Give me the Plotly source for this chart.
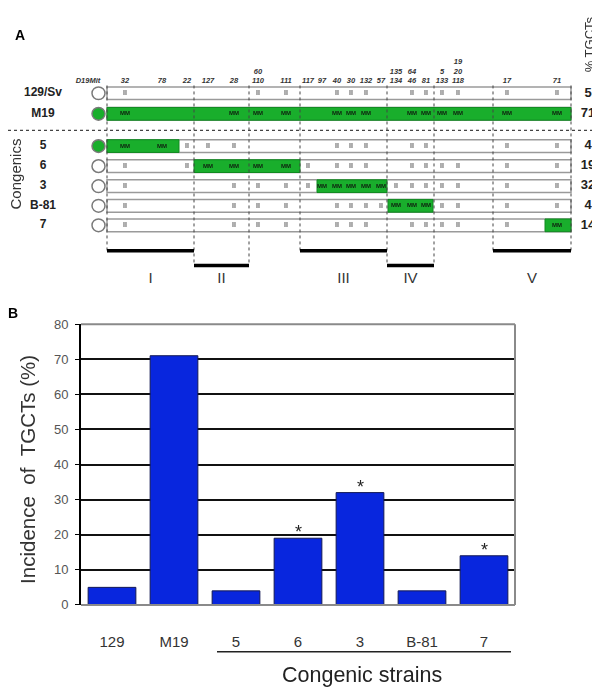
import plotly.graph_objects as go

# ---- panel A: D19Mit genotype map ----
markers = ['32', '78', '22', '127', '28', '110', '111', '117', '97', '40',
           '30', '132', '57', '134', '46', '81', '133', '118', '17', '71']
# extra marker names stacked above the main one (same map position)
marker_extra = {'110': ['60'], '134': ['135'], '46': ['64'], '133': ['5'], '118': ['20', '19']}
# schematic map position of each marker along the chromosome drawing
marker_pos = [125, 162, 187, 208, 234, 258, 286, 308, 322, 337,
              351, 366, 381, 396, 412, 426, 442, 458, 507, 557]

strains = ['129/Sv', 'M19', '5', '6', '3', 'B-81', '7']
# I = II (129 allele), M = MM (MOLF allele), . = not typed
genotypes = [
    'I....II..III..IIIIII',
    'M...MMM..MMM..MMMMMM',
    'MMIII....III..II..II',
    'I.IMMMMI.III..IIIIII',
    'I...IIIIMMMMMIIIIIII',
    'I...III..IIIIMMMIIII',
    'I...III..III..IIIIIM',
]
donor_segments = [None, (107, 571), (107, 179), (194, 300), (317, 387), (388, 433), (545, 571)]
donor_centromere = [False, True, True, False, False, False, False]
tgct_pct = [5, 71, 4, 19, 32, 4, 14]

regions = ['I', 'II', 'III', 'IV', 'V']
region_bounds = [(107, 194), (194, 249), (300, 387), (387, 434), (493, 571)]

# ---- panel B: incidence bar chart ----
bar_labels = ['129', 'M19', '5', '6', '3', 'B-81', '7']
incidence = [5, 71, 4, 19, 32, 4, 14]
significant = [False, False, False, True, True, False, True]

FONT = 'Liberation Sans, Arial, sans-serif'
GREEN = '#19AE2C'
BLUE = '#0826DE'

# the page body has an 8px margin, so the figure is 8px smaller and the
# overlay axis x2/y2 is set up in window pixels
W, H, OFF = 600, 699, 8
row_y = [88, 109, 142, 162.5, 183, 203, 223]
bar_left, bar_right = 107, 571

fig = go.Figure()

fig.add_trace(go.Bar(
    x=bar_labels, y=incidence,
    marker=dict(color=BLUE, line=dict(color='#141a55', width=1)),
    xaxis='x', yaxis='y', hoverinfo='x+y',
))

shapes = []
annotations = []

# row bars + circles + donor segments
for i, s in enumerate(strains):
    y = row_y[i]
    shapes.append(dict(type='rect', xref='x2', yref='y2', x0=bar_left, x1=bar_right,
                       y0=y - 6.5, y1=y + 6.5, fillcolor='white',
                       line=dict(color='#9a9a9a', width=1.5), layer='below'))
    seg = donor_segments[i]
    if seg:
        shapes.append(dict(type='rect', xref='x2', yref='y2', x0=seg[0], x1=seg[1],
                           y0=y - 6.5, y1=y + 6.5, fillcolor=GREEN,
                           line=dict(color='#108a20', width=1), layer='below'))
    shapes.append(dict(type='circle', xref='x2', yref='y2', x0=92, x1=105,
                       y0=y - 6.5, y1=y + 6.5,
                       fillcolor=GREEN if donor_centromere[i] else 'white',
                       line=dict(color='#7a7a7a', width=1.5)))

# dotted boundaries
low_bounds = {b for k, (a, c) in enumerate(region_bounds) if k % 2 == 1 for b in (a, c)}
all_bounds = sorted({b for pair in region_bounds for b in pair})
for b in all_bounds:
    shapes.append(dict(type='line', xref='x2', yref='y2', x0=b, x1=b, y0=80,
                       y1=264 if b in low_bounds else 249,
                       line=dict(color='#444', width=1, dash='dot')))
shapes.append(dict(type='line', xref='x2', yref='y2', x0=OFF, x1=W, y0=126, y1=126,
                   line=dict(color='#444', width=1.2, dash='dot')))

# region bars
for k, (a, c) in enumerate(region_bounds):
    yy = 264 if k % 2 == 1 else 249
    shapes.append(dict(type='line', xref='x2', yref='y2', x0=a, x1=c, y0=yy, y1=yy,
                       line=dict(color='black', width=3.5)))

# genotype calls
ii_x, ii_y, mm_x, mm_y = [], [], [], []
for i, g in enumerate(genotypes):
    for j, code in enumerate(g):
        if code == 'I':
            ii_x.append(marker_pos[j]); ii_y.append(row_y[i])
        elif code == 'M':
            mm_x.append(marker_pos[j]); mm_y.append(row_y[i])
fig.add_trace(go.Scatter(x=ii_x, y=ii_y, mode='text', text=['II'] * len(ii_x),
                         textfont=dict(size=7, color='#666666', family=FONT, weight='bold'),
                         opacity=0.99, xaxis='x2', yaxis='y2', hoverinfo='skip'))
fig.add_trace(go.Scatter(x=mm_x, y=mm_y, mode='text', text=['MM'] * len(mm_x),
                         textfont=dict(size=6, color='#102010', family=FONT, weight='bold'),
                         opacity=0.99, xaxis='x2', yaxis='y2', hoverinfo='skip'))

# marker names
lab_x, lab_y, lab_t = [], [], []
for m, p in zip(markers, marker_pos):
    lab_x.append(p); lab_y.append(76); lab_t.append(m)
    for k, e in enumerate(marker_extra.get(m, [])):
        lab_x.append(p); lab_y.append(66 - 10 * k); lab_t.append(e)
lab_x.append(88); lab_y.append(76); lab_t.append('D19Mit')
fig.add_trace(go.Scatter(x=lab_x, y=lab_y, mode='text', text=lab_t,
                         textfont=dict(size=7.5, color='#333', family=FONT,
                                       style='italic', weight='bold'),
                         xaxis='x2', yaxis='y2', hoverinfo='skip'))

# strain names, % TGCTs, region names
fig.add_trace(go.Scatter(x=[43] * len(strains), y=row_y, mode='text', text=strains,
                         textfont=dict(size=12, color='#222', family=FONT, weight='bold'),
                         xaxis='x2', yaxis='y2', hoverinfo='skip'))
fig.add_trace(go.Scatter(x=[588] * len(strains), y=row_y, mode='text',
                         text=[str(v) for v in tgct_pct],
                         textfont=dict(size=13, color='#222', family=FONT, weight='bold'),
                         xaxis='x2', yaxis='y2', hoverinfo='skip'))
fig.add_trace(go.Scatter(x=[(a + c) / 2 for a, c in region_bounds], y=[278] * len(regions),
                         mode='text', text=regions,
                         textfont=dict(size=15, color='#333', family=FONT),
                         xaxis='x2', yaxis='y2', hoverinfo='skip'))

annotations += [
    dict(x=20, y=28, xref='x2', yref='y2', text='<b>A</b>', showarrow=False,
         font=dict(size=14, color='black', family=FONT)),
    dict(x=589, y=38, xref='x2', yref='y2', text='% TGCTs', textangle=-90, showarrow=False,
         font=dict(size=13, color='#333', family=FONT)),
    dict(x=15, y=171, xref='x2', yref='y2', text='Congenics', textangle=-90, showarrow=False,
         font=dict(size=15, color='#333', family=FONT)),
    dict(x=13, y=313, xref='x2', yref='y2', text='<b>B</b>', showarrow=False,
         font=dict(size=14, color='black', family=FONT)),
    dict(x=28, y=473, xref='x2', yref='y2', text='Incidence\u00a0\u00a0of\u00a0\u00a0TGCTs (%)',
         textangle=-90, showarrow=False, font=dict(size=20.5, color='#333', family=FONT)),
    dict(x=362, y=683, xref='x2', yref='y2', text='Congenic strains', showarrow=False,
         font=dict(size=21.5, color='#222', family=FONT)),
]
shapes.append(dict(type='line', xref='x2', yref='y2', x0=217, x1=511, y0=659, y1=659,
                   line=dict(color='#222', width=1.5)))

# asterisks (category index as x)
for i, (v, sig) in enumerate(zip(incidence, significant)):
    if sig:
        annotations.append(dict(x=i, y=v, xref='x', yref='y', text='*', showarrow=False,
                                yanchor='bottom', yshift=-6,
                                font=dict(size=18, color='#222', family=FONT)))

# frame of bar chart: top, right, bottom in grey
for x0, x1, y0, y1 in [(0, 1, 1, 1), (1, 1, 0, 1), (0, 1, 0, 0)]:
    shapes.append(dict(type='line', xref='x domain', yref='y domain', x0=x0, x1=x1,
                       y0=y0, y1=y1, line=dict(color='#8a8a8a', width=2)))

fw, fh = W - OFF, H - OFF
fig.update_layout(
    width=fw, height=fh,
    margin=dict(l=0, r=0, t=0, b=0),
    paper_bgcolor='white', plot_bgcolor='rgba(0,0,0,0)',
    showlegend=False, bargap=0.23,
    font=dict(family=FONT),
    xaxis=dict(domain=[(81 - OFF) / fw, (515 - OFF) / fw], anchor='y', type='category',
               range=[-0.5, 6.5], showline=False, ticks='', showgrid=False,
               tickfont=dict(size=15, color='#333'), ticklabelstandoff=26),
    yaxis=dict(domain=[(H - 611) / fh, (H - 324) / fh], anchor='x', range=[0, 80],
               dtick=10, showgrid=True, gridcolor='#111', gridwidth=2, zeroline=False,
               showline=True, linecolor='black', linewidth=2, ticks='outside', ticklen=4,
               tickcolor='black', tickfont=dict(size=13, color='#555'), ticklabelstandoff=4),
    xaxis2=dict(domain=[0, 1], anchor='y2', range=[OFF, W], visible=False, fixedrange=True),
    yaxis2=dict(domain=[0, 1], anchor='x2', range=[H, OFF], visible=False, fixedrange=True),
    shapes=shapes, annotations=annotations,
)

fig.write_html('out.html')
